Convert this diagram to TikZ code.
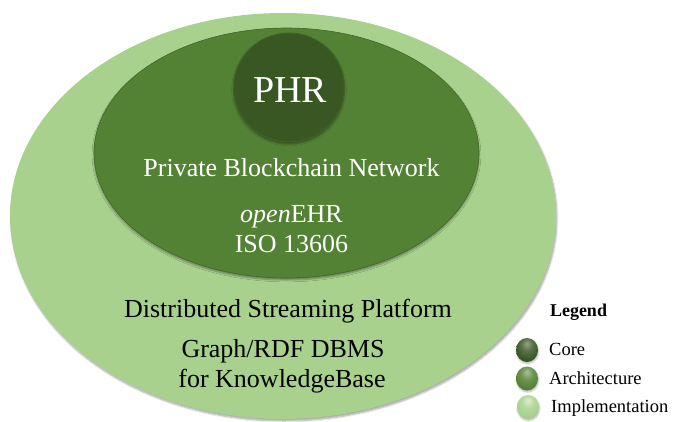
\documentclass[tikz,border=0pt]{standalone}
\usepackage{fontspec}
\setmainfont{Liberation Serif}
\usetikzlibrary{shapes.geometric,shadows.blur}
\definecolor{implcol}{HTML}{A9D18E}
\definecolor{archcol}{HTML}{548235}
\definecolor{corecol}{HTML}{385723}
\pgfdeclareradialshading{coreball}{\pgfpoint{0bp}{14bp}}{color(0bp)=(corecol!55!white); color(14bp)=(corecol!85!white); color(28bp)=(corecol); color(50bp)=(corecol!85!black); color(70bp)=(corecol!70!black)}
\pgfdeclareradialshading{archball}{\pgfpoint{0bp}{14bp}}{color(0bp)=(archcol!50!white); color(14bp)=(archcol!85!white); color(28bp)=(archcol); color(50bp)=(archcol!85!black); color(70bp)=(archcol!70!black)}
\pgfdeclareradialshading{implball}{\pgfpoint{0bp}{14bp}}{color(0bp)=(implcol!40!white); color(14bp)=(implcol!85!white); color(28bp)=(implcol); color(50bp)=(implcol!88!black); color(70bp)=(implcol!75!black)}
\begin{document}
\begin{tikzpicture}[x=1pt,y=-1pt,
  layer/.style={ellipse, inner sep=0pt, outer sep=0pt},
  bigtxt/.style={anchor=base, inner sep=0pt, font=\fontsize{26}{30}\selectfont},
  legtxt/.style={anchor=base west, inner sep=0pt, font=\fontsize{18.5}{22}\selectfont},
  legball/.style={ellipse, inner sep=0pt, minimum width=22pt, minimum height=24pt,
    blur shadow={shadow xshift=0.5pt, shadow yshift=-1.5pt, shadow opacity=30, shadow blur steps=4}}
]
\useasboundingbox (0,0) rectangle (674,422);
% layers
\node[layer, fill=implcol, minimum width=546pt, minimum height=406pt,
  blur shadow={shadow xshift=1pt, shadow yshift=-2pt, shadow opacity=35, shadow blur steps=6}] (impl) at (283,216) {};
\node[layer, fill=archcol, draw=archcol!80!black, line width=0.6pt, minimum width=385pt, minimum height=250pt,
  blur shadow={shadow xshift=0pt, shadow yshift=-2pt, shadow opacity=40, shadow blur steps=5}] (arch) at (286.5,153) {};
\node[layer, fill=corecol, draw=corecol!70!archcol, line width=1pt, minimum width=111pt, minimum height=109pt,
  blur shadow={shadow xshift=0pt, shadow yshift=-2pt, shadow opacity=40, shadow blur steps=5}] (core) at (289,87.5) {};
% texts
\node[bigtxt, text=white, font=\fontsize{38}{44}\selectfont] (phr) at (290,103) {PHR};
\node[bigtxt, text=white] (pbn) at (291.5,177) {Private Blockchain Network};
\node[bigtxt, text=white] (ehr) at (291.5,222.5) {\textit{open}EHR};
\node[bigtxt, text=white] (iso) at (291.5,252.5) {ISO 13606};
\node[bigtxt, text=black] (dsp) at (288,317) {Distributed Streaming Platform};
\node[bigtxt, text=black] (gdb) at (283,357.5) {Graph/RDF DBMS};
\node[bigtxt, text=black] (kb) at (282,387) {for KnowledgeBase};
% legend
\node[anchor=base, inner sep=0pt, font=\fontsize{18}{22}\selectfont\bfseries] (leg) at (578.5,316) {Legend};
\node[legball, shading=coreball] (b1) at (527,350) {};
\node[legball, shading=archball] (b2) at (527,378.5) {};
\node[legball, shading=implball] (b3) at (528,407) {};
\node[legtxt] (l1) at (549,355) {Core};
\node[legtxt] (l2) at (549,384) {Architecture};
\node[legtxt] (l3) at (551,412.5) {Implementation};
\end{tikzpicture}
\end{document}
